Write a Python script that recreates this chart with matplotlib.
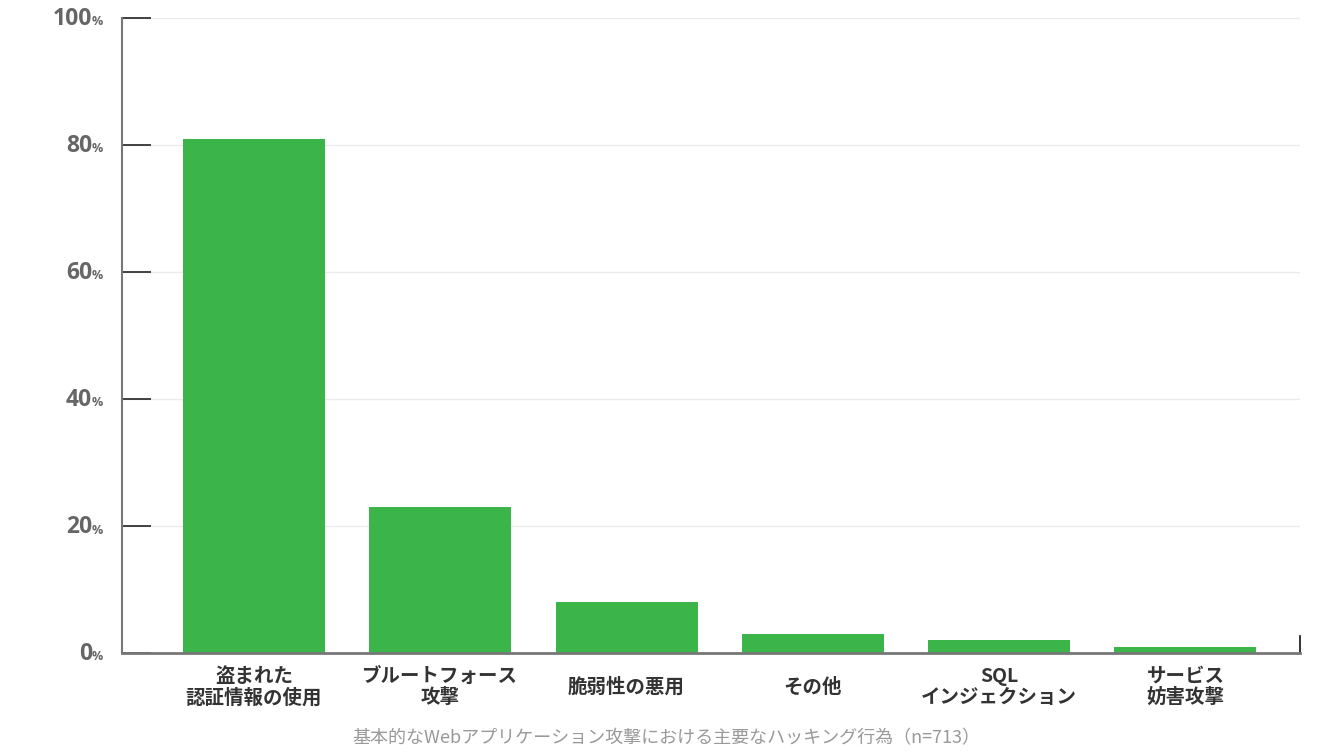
import matplotlib
matplotlib.use("Agg")
import matplotlib.pyplot as plt
import matplotlib.transforms as mtransforms
import numpy as np

plt.rcParams['font.family'] = ['Noto Sans CJK JP', 'DejaVu Sans']

# data
categories = ['盗まれた\n認証情報の使用', 'ブルートフォース\n攻撃', '脆弱性の悪用',
              'その他', 'SQL\nインジェクション', 'サービス\n妨害攻撃']
values = [81, 23, 8, 3, 2, 1]
yticks = [0, 20, 40, 60, 80, 100]
caption = '基本的なWebアプリケーション攻撃における主要なハッキング行為（n=713）'

fig = plt.figure(figsize=(13.44, 7.56), dpi=100)
ax = fig.add_axes([122 / 1344, 103 / 756, 1178 / 1344, 635 / 756])

x = np.arange(len(categories))
ax.bar(x, values, width=0.762, color='#3bb54a', zorder=3)

ax.set_xlim(-0.709, 5.615)
ax.set_ylim(0, 100)

# grid
ax.set_yticks(yticks)
ax.yaxis.grid(True, color='#ececec', linewidth=1, zorder=0)
ax.tick_params(axis='y', direction='in', length=21, width=1.2, color='#222',
               labelleft=False)
ax.set_xticks(x)
ax.set_xticklabels(categories, fontsize=14, fontweight='bold', color='#333',
                   linespacing=1.15, va='center')
ax.tick_params(axis='x', length=0, pad=24.5)

for s in ['top', 'right']:
    ax.spines[s].set_visible(False)
ax.spines['left'].set_color('#777')
ax.spines['left'].set_linewidth(1.5)
ax.spines['bottom'].set_color('#777')
ax.spines['bottom'].set_linewidth(2)
ax.spines['bottom'].set_zorder(4)

# small tick at right end of baseline
ax.axvline(ax.get_xlim()[1], ymin=0, ymax=0.027, color='#111', linewidth=1.2,
           clip_on=False)

# y tick labels: bold number + small %
trans = mtransforms.blended_transform_factory(ax.transAxes, ax.transData)
for t in yticks:
    off_num = mtransforms.offset_copy(trans, fig=fig, x=-30, y=-1, units='dots')
    ax.text(0, t, str(t), transform=off_num, ha='right', va='center',
            fontsize=16.5, fontweight='bold', color='#666', family='Open Sans')
    off_pct = mtransforms.offset_copy(trans, fig=fig, x=-30, y=-4, units='dots')
    ax.text(0, t, '%', transform=off_pct, ha='left', va='center',
            fontsize=9, fontweight='bold', color='#666', family='Open Sans')

fig.text(0.496, 0.024, caption, ha='center', va='center', fontsize=13,
         color='#999')

fig.savefig('out.png', dpi=100)
